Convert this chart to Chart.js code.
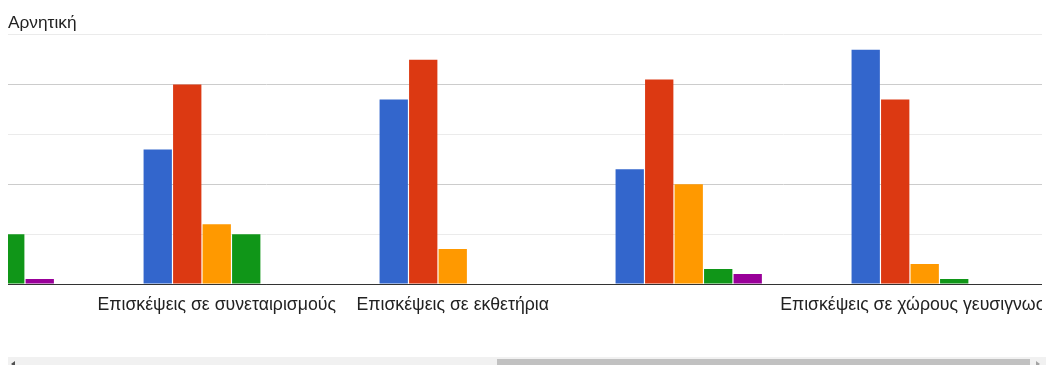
<!DOCTYPE html>
<html>
<head>
<meta charset="utf-8">
<script src="https://cdn.jsdelivr.net/npm/chart.js@4.4.0/dist/chart.umd.min.js"></script>
<style>
  html, body { margin: 0; padding: 0; overflow: hidden; background: #fff; }
  #wrap { position: relative; width: 1046px; height: 365px; }
  #myChart { position: absolute; left: 0; top: 0; }
  .scroll-track { position: absolute; left: 8px; top: 357px; width: 1038px; height: 15px; background: #f1f1f1; }
  .scroll-thumb { position: absolute; left: 489px; top: 2px; width: 533px; height: 11px; background: #c1c1c1; }
  .arrow-left { position: absolute; left: 3px; top: 4px; width: 0; height: 0;
    border-top: 3px solid transparent; border-bottom: 3px solid transparent; border-right: 4px solid #505050; }
  .arrow-right { position: absolute; right: 6px; top: 4px; width: 0; height: 0;
    border-top: 3px solid transparent; border-bottom: 3px solid transparent; border-left: 4px solid #a3a3a3; }
</style>
</head>
<body>
<div id="wrap">
  <canvas id="myChart" width="1042" height="357"></canvas>
  <div class="scroll-track">
    <div class="arrow-left"></div>
    <div class="scroll-thumb"></div>
    <div class="arrow-right"></div>
  </div>
</div>
<script>

// groups in view, left to right (first one is only partly on screen)
var categories = ['', 'Επισκέψεις σε συνεταιρισμούς', 'Επισκέψεις σε εκθετήρια', '', 'Επισκέψεις σε χώρους γευσιγνωσίας'];

var blueValues   = [null, 27, 37, 23, 47];
var redValues    = [null, 40, 45, 41, 37];
var orangeValues = [null, 12, 7, 20, 4];
var greenValues  = [10, 10, 0, 3, 1];
var purpleValues = [1, 0, 0, 2, 0];

var legendText = 'Αρνητική';

var fontFamily = "'Liberation Sans', Arial, sans-serif";

function toPoints(values) {
  return values.map(function (v, i) {
    return { x: i, y: v };
  });
}

function makeDataset(values, color) {
  return {
    data: toPoints(values),
    backgroundColor: color,
    borderWidth: 0,
    categoryPercentage: 0.625,
    barPercentage: 0.96,
    clip: 0
  };
}

var myChartObject = document.getElementById('myChart');

var chart = new Chart(myChartObject, {
  type: 'bar',
  data: {
    datasets: [
      makeDataset(blueValues, '#3366cc'),
      makeDataset(redValues, '#dc3912'),
      makeDataset(orangeValues, '#ff9900'),
      makeDataset(greenValues, '#109618'),
      makeDataset(purpleValues, '#990099')
    ]
  },
  options: {
    responsive: false,
    animation: false,
    layout: {
      padding: { left: 8, right: 0, top: 0, bottom: 0 }
    },
    plugins: {
      legend: { display: false },
      tooltip: { enabled: false },
      title: {
        display: true,
        text: legendText,
        align: 'start',
        color: '#222',
        font: { family: fontFamily, size: 17.3, weight: 'normal' },
        padding: { top: 13, bottom: 1 }
      }
    },
    scales: {
      x: {
        type: 'linear',
        min: 0.1155,
        max: 4.497,
        offset: false,
        grid: { display: false, drawTicks: false, offset: false },
        border: { display: true, color: '#333', width: 1 },
        ticks: {
          stepSize: 1,
          includeBounds: false,
          autoSkip: false,
          maxRotation: 0,
          padding: 10,
          color: '#222',
          font: { family: fontFamily, size: 17.7 },
          callback: function (value) {
            return categories[value] || '';
          }
        },
        afterFit: function (scale) {
          scale.paddingLeft = 0;
          scale.paddingRight = 0;
          scale.height = 73;
        }
      },
      y: {
        min: 0,
        max: 50,
        grid: {
          drawTicks: false,
          color: function (ctx) {
            var v = ctx.tick ? ctx.tick.value : 0;
            if (v === 0) return '#333';
            return (v % 20 === 0) ? '#cccccc' : '#ebebeb';
          }
        },
        border: { display: false },
        ticks: { display: false, stepSize: 10 },
        afterFit: function (scale) {
          scale.width = 0;
        }
      }
    }
  }
});

</script>
</body>
</html>
